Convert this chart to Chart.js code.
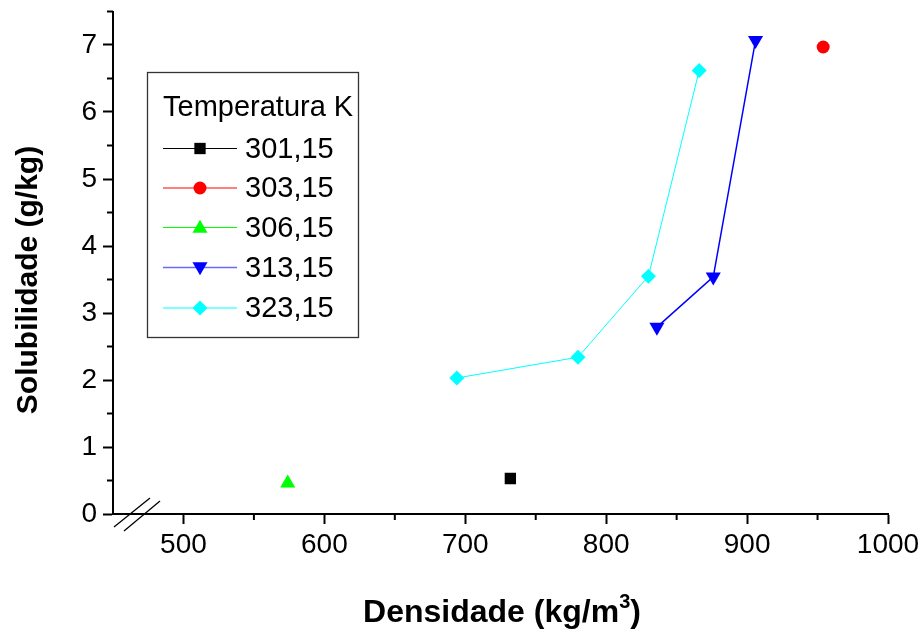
<!DOCTYPE html>
<html><head><meta charset="utf-8">
<script src="https://cdn.jsdelivr.net/npm/chart.js@4.4.0/dist/chart.umd.min.js"></script>
<style>html,body{margin:0;padding:0;background:#fff}#wrap{width:923px;height:633px;position:relative}</style>
</head><body><div id="wrap"><canvas id="c" width="923" height="633"></canvas></div>
<script>
const FONT = '"Liberation Sans", Arial, Helvetica, sans-serif';
const seriesNames = ['301,15','303,15','306,15','313,15','323,15'];
const x301 = [732], y301 = [0.53];
const x303 = [954], y303 = [6.97];
const x306 = [574], y306 = [0.46];
const x313 = [836, 876, 906], y313 = [2.79, 3.54, 7.07];
const x323 = [694, 780, 830, 866], y323 = [2.03, 2.34, 3.55, 6.62];
const xTicks = [500, 600, 700, 800, 900, 1000];
const yTicks = [0, 1, 2, 3, 4, 5, 6, 7];
const xMinor = [550, 650, 750, 850, 950];
const yMinor = [0.5, 1.5, 2.5, 3.5, 4.5, 5.5, 6.5, 7.5];
const legendTitle = 'Temperatura K';
const xTitle = 'Densidade (kg/m', xTitleSup = '3', xTitleEnd = ')';
const yTitle = 'Solubilidade (g/kg)';

const pts = (xs, ys) => xs.map((v, i) => ({x: v, y: ys[i]}));
const styles = [
  {color:'#000000', line:'#000000', point:'rect', r:8, rot:0},
  {color:'#ff0000', line:'#ff0000', point:'circle', r:6.5, rot:0},
  {color:'#00ff00', line:'#00ff00', point:'triangle', r:8.7, rot:0},
  {color:'#0000ff', line:'#0000ff', point:'triangle', r:8.7, rot:180},
  {color:'#00ffff', line:'#00ffff', point:'rectRot', r:7.5, rot:0}
];
const datas = [pts(x301,y301), pts(x303,y303), pts(x306,y306), pts(x313,y313), pts(x323,y323)];

function marker(ctx, s, x, y) {
  ctx.save();
  ctx.fillStyle = s.color;
  ctx.beginPath();
  const r = s.r;
  if (s.point === 'rect') {
    const h = Math.SQRT1_2 * r; ctx.rect(x - h, y - h, 2*h, 2*h);
  } else if (s.point === 'circle') {
    ctx.arc(x, y, r, 0, Math.PI*2);
  } else if (s.point === 'triangle') {
    let a = s.rot * Math.PI / 180;
    for (let k = 0; k < 3; k++) {
      const px = x + Math.sin(a) * r, py = y - Math.cos(a) * r;
      k ? ctx.lineTo(px, py) : ctx.moveTo(px, py);
      a += 2*Math.PI/3;
    }
    ctx.closePath();
  } else if (s.point === 'rectRot') {
    ctx.moveTo(x, y - r); ctx.lineTo(x + r, y); ctx.lineTo(x, y + r); ctx.lineTo(x - r, y); ctx.closePath();
  }
  ctx.fill();
  ctx.restore();
}

const decor = {
  id: 'decor',
  afterDraw(chart) {
    const ctx = chart.ctx, xs = chart.scales.x, ys = chart.scales.y;
    const left = chart.chartArea.left, bottom = chart.chartArea.bottom;
    ctx.save();
    ctx.strokeStyle = '#000'; ctx.lineWidth = 2;
    // minor ticks
    xMinor.forEach(v => { const px = xs.getPixelForValue(v); ctx.beginPath(); ctx.moveTo(px, bottom); ctx.lineTo(px, bottom + 6); ctx.stroke(); });
    yMinor.forEach(v => { const py = ys.getPixelForValue(v); ctx.beginPath(); ctx.moveTo(left, py); ctx.lineTo(left - 6, py); ctx.stroke(); });
    // axis break marks
    ctx.lineWidth = 1.3;
    ctx.beginPath(); ctx.moveTo(left + 1, bottom + 13); ctx.lineTo(left + 37, bottom - 16); ctx.stroke();
    ctx.beginPath(); ctx.moveTo(left + 11, bottom + 17); ctx.lineTo(left + 47, bottom - 13); ctx.stroke();
    // axis titles
    ctx.fillStyle = '#000';
    ctx.textBaseline = 'alphabetic';
    const big = 'bold 32px ' + FONT, small = 'bold 20px ' + FONT;
    ctx.font = big;
    const w1 = ctx.measureText(xTitle).width;
    ctx.font = small;
    const w2 = ctx.measureText(xTitleSup).width;
    ctx.font = big;
    const w3 = ctx.measureText(xTitleEnd).width;
    const tot = w1 + w2 + w3;
    let sx = 502 - tot / 2;
    const by = 622;
    ctx.textAlign = 'left';
    ctx.fillText(xTitle, sx, by);
    ctx.font = small;
    ctx.fillText(xTitleSup, sx + w1, by - 14);
    ctx.font = big;
    ctx.fillText(xTitleEnd, sx + w1 + w2, by);
    ctx.save();
    ctx.font = 'bold 30px ' + FONT;
    ctx.translate(37, 280); ctx.rotate(-Math.PI/2);
    ctx.textAlign = 'center';
    ctx.fillText(yTitle, 0, 0);
    ctx.restore();
    // legend
    ctx.lineWidth = 1.3; ctx.strokeStyle = '#333';
    ctx.strokeRect(147.5, 72.5, 211, 265);
    ctx.font = '29px ' + FONT; ctx.textAlign = 'left'; ctx.textBaseline = 'middle';
    ctx.fillText(legendTitle, 163, 108);
    const rows = [148.5, 188, 227.5, 267.5, 308];
    styles.forEach((s, i) => {
      const yy = rows[i];
      ctx.strokeStyle = i === 3 ? '#6a6aff' : s.line; ctx.lineWidth = i === 3 ? 1.5 : 1;
      ctx.beginPath(); ctx.moveTo(163, yy); ctx.lineTo(237, yy); ctx.stroke();
      marker(ctx, s, 200, yy + (s.point === 'triangle' ? (s.rot ? -1 : 1) : 0));
      ctx.fillStyle = '#000';
      ctx.fillText(seriesNames[i], 245, yy + 1);
    });
    ctx.restore();
  }
};

new Chart(document.getElementById('c'), {
  type: 'line',
  data: {
    datasets: datas.map((d, i) => ({
      label: seriesNames[i],
      data: d,
      borderColor: styles[i].line,
      backgroundColor: styles[i].color,
      borderWidth: i === 3 ? 1.5 : 1,
      pointStyle: styles[i].point,
      pointRotation: styles[i].rot,
      pointRadius: styles[i].r,
      pointHoverRadius: styles[i].r,
      pointBorderWidth: 0,
      pointBackgroundColor: styles[i].color,
      pointBorderColor: styles[i].color,
      tension: 0,
      fill: false
    }))
  },
  options: {
    responsive: false,
    animation: false,
    devicePixelRatio: 1,
    layout: {padding: {left: 0, right: 35, top: 11.5, bottom: 0}},
    plugins: {legend: {display: false}, tooltip: {enabled: false}},
    scales: {
      x: {
        type: 'linear', min: 450, max: 1000, position: 'bottom',
        afterBuildTicks: s => { s.ticks = xTicks.map(v => ({value: v})); },
        afterFit: s => { s.height = 119; s.paddingLeft = 0; s.paddingRight = 0; },
        grid: {drawOnChartArea: false, tickLength: 10, tickWidth: 2, tickColor: '#000'},
        border: {color: '#000', width: 2},
        ticks: {color: '#000', font: {family: FONT, size: 28}, padding: 4, maxRotation: 0, autoSkip: false, callback: v => String(v)}
      },
      y: {
        type: 'linear', min: 0, max: 7.5, position: 'left',
        afterBuildTicks: s => { s.ticks = yTicks.map(v => ({value: v})); },
        afterFit: s => { s.width = 113; s.paddingTop = 0; s.paddingBottom = 0; },
        grid: {drawOnChartArea: false, tickLength: 10, tickWidth: 2, tickColor: '#000'},
        border: {color: '#000', width: 2},
        ticks: {color: '#000', font: {family: FONT, size: 28}, padding: 6, autoSkip: false, callback: v => String(v)}
      }
    }
  },
  plugins: [decor]
});
</script></body></html>
